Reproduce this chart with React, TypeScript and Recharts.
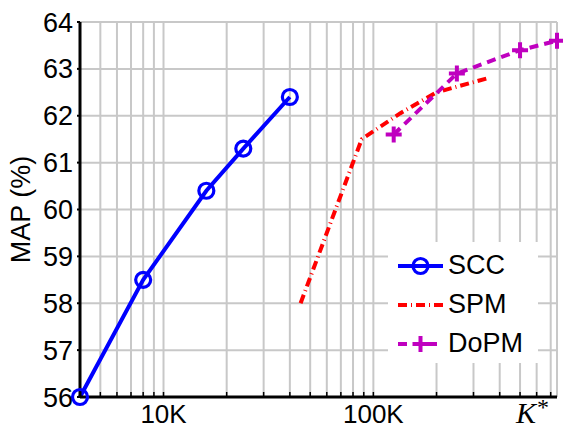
import { LineChart, Line, XAxis, YAxis, CartesianGrid, Legend, Label } from 'recharts';

const sccK = [4000, 8000, 16000, 24000, 40000];
const sccMap = [56.0, 58.5, 60.4, 61.3, 62.4];
const spmK = [45000, 88000, 134000, 200000, 350000];
const spmMap = [58.0, 61.5, 62.05, 62.5, 62.8];
const dopmK = [125000, 250000, 500000, 750000];
const dopmMap = [61.6, 62.9, 63.4, 63.6];

const xGrid = [5000, 6000, 7000, 8000, 9000, 10000, 20000, 30000, 40000, 50000, 60000, 70000, 80000, 90000, 100000, 200000, 300000, 400000, 500000, 600000, 700000];
const xLabels: Record<number, string> = { 10000: '10K', 100000: '100K' };
const yTicks = [56, 57, 58, 59, 60, 61, 62, 63, 64];

const toPoints = (ks: number[], vs: number[]) => ks.map((k, i) => ({ x: k, y: vs[i] }));
const scc = toPoints(sccK, sccMap);
const spm = toPoints(spmK, spmMap);
const dopm = toPoints(dopmK, dopmMap);

const BLUE = '#0000ff';
const RED = '#ff0000';
const MAGENTA = '#bf00bf';
const FONT = '"Liberation Sans", Arial, sans-serif';

const CircleDot = (props: any) => {
  const { cx, cy, index } = props;
  if (cx == null || cy == null) return null;
  return <circle key={index} cx={cx} cy={cy} r={7.5} fill="none" stroke={BLUE} strokeWidth={3.2} />;
};

const PlusDot = (props: any) => {
  const { cx, cy, index } = props;
  if (cx == null || cy == null) return null;
  return (
    <path key={index} d={`M${cx - 8},${cy}H${cx + 8}M${cx},${cy - 8}V${cy + 8}`} stroke={MAGENTA} strokeWidth={4} fill="none" />
  );
};

const legendItems = [
  { name: 'SCC', color: BLUE, dash: undefined, marker: 'circle' },
  { name: 'SPM', color: RED, dash: '9 4 1 4', marker: 'none' },
  { name: 'DoPM', color: MAGENTA, dash: '9 6', marker: 'plus' },
];

const LegendBox = () => (
  <div style={{ background: '#fff', width: 150, height: 121, boxSizing: 'border-box', paddingTop: 4 }}>
    {legendItems.map((it) => (
      <div key={it.name} style={{ display: 'flex', alignItems: 'center', height: 39 }}>
        <svg width={58} height={30} style={{ flex: 'none' }}>
          <line x1={10} y1={15} x2={55} y2={15} stroke={it.color} strokeWidth={4} strokeDasharray={it.dash} />
          {it.marker === 'circle' && <circle cx={32.5} cy={15} r={7.5} fill="none" stroke={it.color} strokeWidth={3.2} />}
          {it.marker === 'plus' && <path d="M24.5,15H40.5M32.5,7V23" stroke={it.color} strokeWidth={4} />}
        </svg>
        <span style={{ fontFamily: FONT, fontSize: 27, color: '#000', lineHeight: 1, marginLeft: 2 }}>{it.name}</span>
      </div>
    ))}
  </div>
);

export default function App() {
  return (
    <div style={{ position: 'absolute', left: 0, top: 0, width: 563, height: 430, background: '#fff' }}>
      <LineChart width={563} height={430} margin={{ top: 22, right: 6, bottom: 0, left: 0 }}>
        <CartesianGrid stroke="#c8c8c8" strokeWidth={2} />
        <XAxis
          dataKey="x"
          type="number"
          scale="log"
          domain={[4000, 750000]}
          ticks={xGrid}
          interval={0}
          height={33}
          tickFormatter={(v: number) => xLabels[v] ?? ''}
          tick={{ fontSize: 26, fill: '#000', fontFamily: FONT }}
          tickSize={-5}
          tickMargin={13}
          tickLine={{ stroke: '#000', strokeWidth: 1.5 }}
          axisLine={{ stroke: '#000', strokeWidth: 3 }}
        >
          <Label
            content={({ viewBox }: any) => (
              <text x={viewBox.x + viewBox.width - 41} y={viewBox.y + 26} fontFamily='"Liberation Serif", "Times New Roman", serif' fontStyle="italic" fontSize={30} fill="#000">
                K<tspan dy={-8} dx={1} fontSize={24} fontStyle="normal">*</tspan>
              </text>
            )}
          />
        </XAxis>
        <YAxis
          type="number"
          domain={[56, 64]}
          ticks={yTicks}
          interval={0}
          width={80}
          tick={{ fontSize: 27, fill: '#000', fontFamily: FONT }}
          tickSize={3}
          tickMargin={4}
          tickLine={{ stroke: '#000', strokeWidth: 2 }}
          axisLine={{ stroke: '#000', strokeWidth: 3 }}
        >
          <Label
            content={({ viewBox }: any) => {
              const cx = viewBox.x + 21;
              const cy = viewBox.y + viewBox.height / 2;
              return (
                <text x={cx} y={cy} transform={`rotate(-90 ${cx} ${cy})`} textAnchor="middle" dominantBaseline="central" fontFamily={FONT} fontSize={27} fill="#000">
                  MAP (%)
                </text>
              );
            }}
          />
        </YAxis>
        <Legend
          layout="vertical"
          align="center"
          verticalAlign="middle"
          content={() => <LegendBox />}
          wrapperStyle={{ position: 'absolute', left: 388, top: 242, width: 150, height: 121 }}
        />
        <Line data={spm} dataKey="y" name="SPM" stroke={RED} strokeWidth={4} strokeDasharray="9 4 1 4" dot={false} activeDot={false} isAnimationActive={false} />
        <Line data={dopm} dataKey="y" name="DoPM" stroke={MAGENTA} strokeWidth={4} strokeDasharray="9 6" dot={PlusDot} activeDot={false} isAnimationActive={false} />
        <Line data={scc} dataKey="y" name="SCC" stroke={BLUE} strokeWidth={4} dot={CircleDot} activeDot={false} isAnimationActive={false} />
      </LineChart>
    </div>
  );
}
